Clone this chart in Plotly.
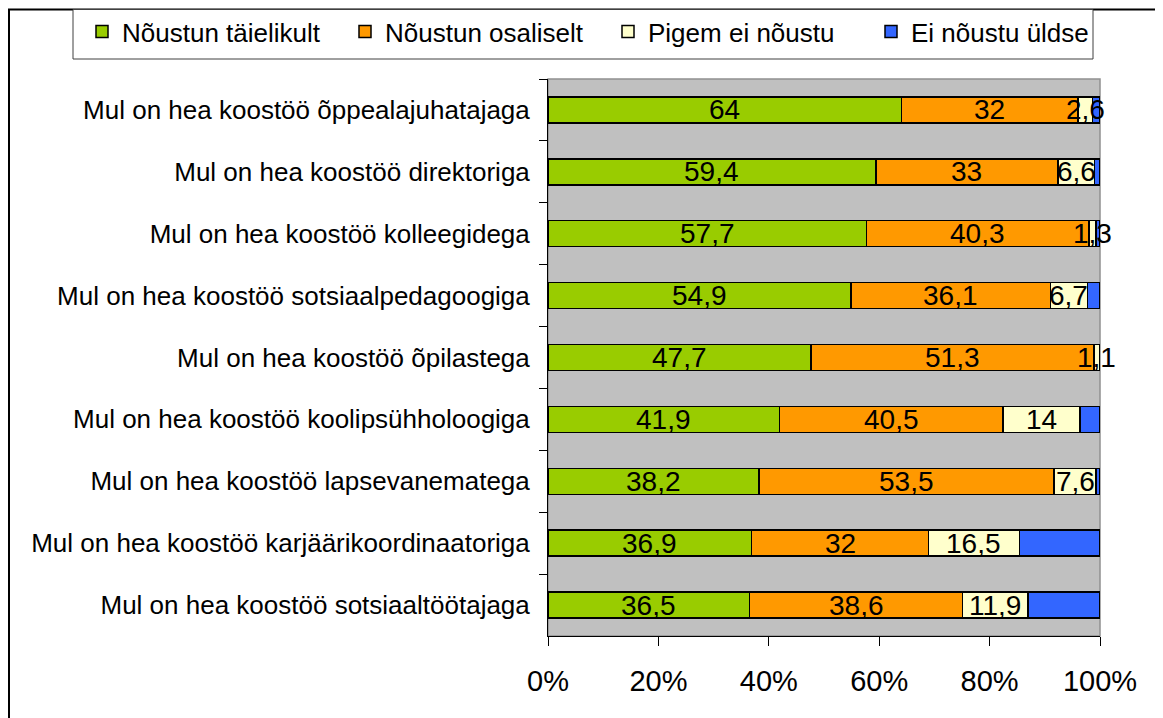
import plotly.graph_objects as go

categories = [
    "Mul on hea koostöö õppealajuhatajaga",
    "Mul on hea koostöö direktoriga",
    "Mul on hea koostöö kolleegidega",
    "Mul on hea koostöö sotsiaalpedagoogiga",
    "Mul on hea koostöö õpilastega",
    "Mul on hea koostöö koolipsühholoogiga",
    "Mul on hea koostöö lapsevanematega",
    "Mul on hea koostöö karjäärikoordinaatoriga",
    "Mul on hea koostöö sotsiaaltöötajaga",
]
taielikult = [64, 59.4, 57.7, 54.9, 47.7, 41.9, 38.2, 36.9, 36.5]
osaliselt = [32, 33, 40.3, 36.1, 51.3, 40.5, 53.5, 32, 38.6]
pigem_ei = [2.6, 6.6, 1.3, 6.7, 1.1, 14, 7.6, 16.5, 11.9]
ei_uldse = [1.4, 1.0, 0.7, 2.3, 0.0, 3.6, 0.7, 14.6, 13.0]

series_names = ["Nõustun täielikult", "Nõustun osaliselt", "Pigem ei nõustu", "Ei nõustu üldse"]
tick_vals = [0, 20, 40, 60, 80, 100]
tick_text = ["0%", "20%", "40%", "60%", "80%", "100%"]

colors = ["#99CC00", "#FF9900", "#FFFFCC", "#3366FF"]
FONT = "Liberation Sans, Arial, sans-serif"

# screen geometry of the plot area (page offset of 8px from body margin)
OFF = 8
PL, PR, PT, PB = 548, 1100, 79, 636
PW, PH = PR - PL, PB - PT


def px_to_paper_x(px):
    return (px - PL) / PW


def px_to_paper_y(py):
    return (PB - py) / PH


def fmt(v):
    if float(v).is_integer():
        return str(int(v))
    return str(v).replace(".", ",")


fig = go.Figure()
all_series = [taielikult, osaliselt, pigem_ei, ei_uldse]
for i, (name, vals) in enumerate(zip(series_names, all_series)):
    fig.add_trace(go.Bar(
        y=categories, x=vals, name=name, orientation="h",
        marker=dict(color=colors[i], line=dict(color="black", width=1.5)),
        hoverinfo="skip",
    ))

# data labels (centred in each segment, computed from the normalised data)
annotations = []
for j, cat in enumerate(categories):
    row = [s[j] for s in all_series]
    total = sum(row)
    cum = 0.0
    for i, v in enumerate(row):
        if i < 3:
            annotations.append(dict(
                x=(cum + v / 2) / total * 100, y=cat, xref="x", yref="y",
                text=fmt(v), showarrow=False, xanchor="center", yanchor="middle",
                font=dict(family=FONT, size=28, color="black"),
            ))
        cum += v

fig.update_layout(
    barmode="stack",
    barnorm="percent",
    bargap=0.58,
    width=1163, height=718,
    margin=dict(l=PL - OFF, r=1163 + OFF - PR, t=PT - OFF, b=718 + OFF - PB,
                autoexpand=False),
    paper_bgcolor="white",
    plot_bgcolor="#C0C0C0",
    font=dict(family=FONT, size=26, color="black"),
    showlegend=True,
    legend=dict(
        orientation="h",
        x=px_to_paper_x(82), xanchor="left",
        y=px_to_paper_y(8), yanchor="top",
        borderwidth=0,
        bgcolor="rgba(0,0,0,0)",
        entrywidth=218, entrywidthmode="pixels",
        font=dict(family=FONT, size=26, color="black"),
        traceorder="normal",
    ),
    annotations=annotations,
    xaxis=dict(
        range=[0, 100], tickvals=tick_vals, ticktext=tick_text,
        showgrid=False, zeroline=False,
        ticks="outside", ticklen=9, tickcolor="black", tickwidth=1,
        showline=True, linecolor="black", linewidth=1,
        ticklabelstandoff=10,
        tickfont=dict(family=FONT, size=29, color="black"),
        fixedrange=True,
    ),
    yaxis=dict(
        autorange="reversed",
        showgrid=False, zeroline=False,
        ticks="outside", ticklen=8, tickcolor="black", tickwidth=1,
        tickson="boundaries",
        showline=True, linecolor="black", linewidth=1,
        ticklabelstandoff=12,
        tickfont=dict(family=FONT, size=26, color="black"),
        fixedrange=True,
    ),
    shapes=[
        dict(type="rect", xref="paper", yref="paper", x0=0, x1=1, y0=0, y1=1,
             line=dict(color="#909090", width=1.5), layer="below"),
        dict(type="rect", xref="paper", yref="paper",
             x0=px_to_paper_x(9), x1=1.3, y0=-0.3, y1=px_to_paper_y(9.5),
             line=dict(color="black", width=2), layer="below"),
        dict(type="rect", xref="paper", yref="paper",
             x0=px_to_paper_x(73), x1=px_to_paper_x(1093),
             y0=px_to_paper_y(59), y1=px_to_paper_y(9.5),
             line=dict(color="#404040", width=1), fillcolor="white", layer="below"),
    ],
)

fig.write_html("out.html")
